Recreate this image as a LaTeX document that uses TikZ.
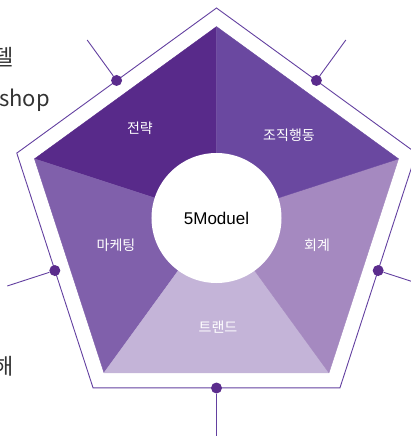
\documentclass[tikz,border=0pt]{standalone}
\usepackage{fontspec}
\setmainfont{Noto Sans CJK KR}
\newfontfamily\latinfont{Liberation Sans}
\definecolor{stratcol}{HTML}{582A8A}
\definecolor{orgcol}{HTML}{6A48A0}
\definecolor{mktcol}{HTML}{8060AB}
\definecolor{acctcol}{HTML}{A589C0}
\definecolor{trendcol}{HTML}{C4B4D8}
\definecolor{dotcol}{HTML}{5B2C8D}
\definecolor{linecol}{HTML}{6340A0}
\definecolor{sidecol}{HTML}{333333}
\tikzset{
	dot/.style={
		inner sep = 0pt,
		minimum size = 11pt,
		shape = circle,
		fill = dotcol
	},
	lead/.style={
		draw = linecol,
		line width = 0.9pt
	},
	hub/.style={
		inner sep = 0pt,
		minimum size = 130pt,
		shape = circle,
		fill = white,
		font = \latinfont\fontsize{17}{19}\selectfont
	},
	seclabel/.style={
		inner sep = 0pt,
		text = white,
		font = \fontsize{14}{16}\selectfont
	},
	sidetext/.style={
		inner sep = 0pt,
		text = sidecol,
		font = \fontsize{22}{25}\selectfont
	},
}

\begin{document}
\begin{tikzpicture}[x=1pt, y=1pt]
    \clip (-216.5,-218) rectangle (194.5,218);
    \foreach \a/\b/\c in {90/162/stratcol, 162/234/mktcol, 234/306/trendcol, 306/378/acctcol, 18/90/orgcol}{
      \filldraw[\c, line width=0.4pt, line join=bevel] (0,0) -- (\a:191.4) -- (\b:191.4) -- cycle;
    }
    \draw[lead] (90:210) -- (162:210) -- (234:210) -- (306:210) -- (378:210) -- cycle;
    \node[hub] (hub) at (0,0) {5Moduel};
    \node[seclabel] (strat) at (-76.5,90) {전략};
    \node[seclabel] (org) at (72.5,83) {조직행동};
    \node[seclabel] (mkt) at (-100.5,-27) {마케팅};
    \node[seclabel] (acct) at (100.5,-27) {회계};
    \node[seclabel] (trend) at (1.5,-109) {트랜드};
    \foreach \n/\a in {1/126, 2/54, 3/198, 4/342, 5/270}{
      \node[dot] (d\n) at (\a:170) {};
      \coordinate (e\n) at (\a:220);
      \draw[lead] (d\n) -- (e\n);
    }
    \node[sidetext, anchor=east] (side1) at (-203,160.5) {델};
    \node[sidetext, anchor=base east] (side2) at (-166.5,111) {shop};
    \node[sidetext, anchor=east] (side3) at (-203,-148) {해};
\end{tikzpicture}
\end{document}
